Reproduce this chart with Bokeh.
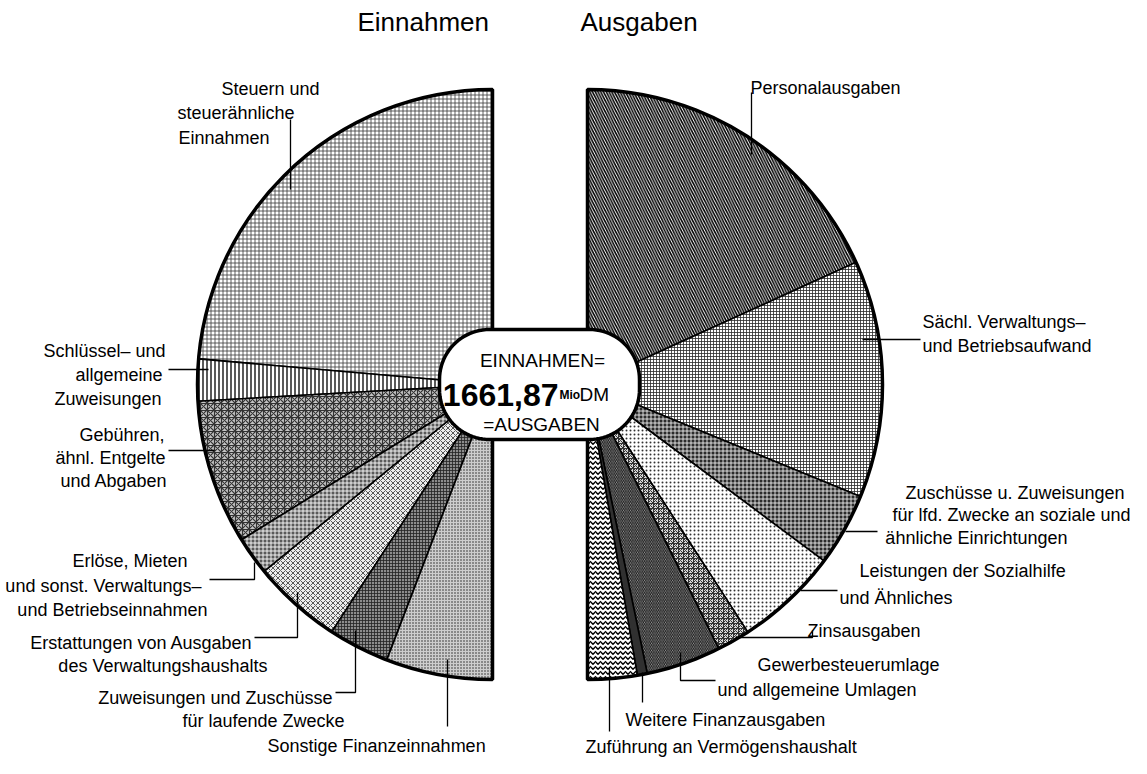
import numpy as np
from bokeh.plotting import figure
from bokeh.models import Range1d, ColumnDataSource
from bokeh.embed import file_html
from bokeh.resources import INLINE
from bokeh.core.properties import value

# ---------------- data (Mio DM) ----------------
einnahmen_names = [
    "Steuern und steuerähnliche Einnahmen",
    "Schlüssel- und allgemeine Zuweisungen",
    "Gebühren, ähnl. Entgelte und Abgaben",
    "Erlöse, Mieten und sonst. Verwaltungs- und Betriebseinnahmen",
    "Erstattungen von Ausgaben des Verwaltungshaushalts",
    "Zuweisungen und Zuschüsse für laufende Zwecke",
    "Sonstige Finanzeinnahmen",
]
einnahmen_values = [785.0, 76.0, 263.0, 70.0, 163.0, 111.0, 193.87]

ausgaben_names = [
    "Personalausgaben",
    "Sächl. Verwaltungs- und Betriebsaufwand",
    "Zuschüsse u. Zuweisungen für lfd. Zwecke an soziale und ähnliche Einrichtungen",
    "Leistungen der Sozialhilfe und Ähnliches",
    "Zinsausgaben",
    "Gewerbesteuerumlage und allgemeine Umlagen",
    "Weitere Finanzausgaben",
    "Zuführung an Vermögenshaushalt",
]
ausgaben_values = [605.0, 432.0, 133.0, 188.0, 60.0, 136.0, 18.0, 89.87]

total_text = "1661,87"
titles = ["Einnahmen", "Ausgaben"]

# ---------------- styles ----------------
FONT = value("Liberation Sans")
W, H = 1131, 758


def X(px):
    return px - 8


def Y(py):
    return 766 - py


ein_style = dict(
    fc=["white", "white", "#c4c4c4", "#5a5a5a", "#ececec", "#8c8c8c", "#cdcdcd"],
    hp=["+", "|", "*", "+", "x", "+", "."],
    hc=["#3a3a3a", "black", "#333333", "white", "#444444", "#222222", "#222222"],
    hs=[4.0, 4.0, 7.0, 4.0, 5.0, 3.0, 3.0],
    hw=[0.8, 1.3, 1.2, 0.9, 0.9, 0.8, 0.9],
)
aus_style = dict(
    fc=["white", "white", "#2b2b2b", "white", "#d8d8d8", "#a0a0a0", "#303030", "white"],
    hp=["\\", "+", "+", ".", "*", "\\", " ", "v"],
    hc=["black", "#2a2a2a", "white", "#333333", "#333333", "#111111", "white", "black"],
    hs=[5.5, 3.0, 4.0, 4.0, 5.0, 3.5, 3.0, 5.0],
    hw=[1.6, 0.8, 0.8, 1.0, 1.0, 1.0, 0.8, 1.4],
)

R = 295
CL = (X(500), Y(392))
CR = (X(595), Y(392))


def half_angles(values, side):
    v = np.array(values, dtype=float)
    frac = np.cumsum(np.concatenate([[0.0], v])) / v.sum()
    if side == "left":
        start = np.pi / 2 + frac[:-1] * np.pi
        end = np.pi / 2 + frac[1:] * np.pi
    else:
        start = np.pi / 2 - frac[1:] * np.pi
        end = np.pi / 2 - frac[:-1] * np.pi
    return start, end


p = figure(width=W, height=H, x_range=Range1d(0, W), y_range=Range1d(0, H),
           output_backend="svg", toolbar_location=None,
           x_axis_type=None, y_axis_type=None, min_border=0)
p.outline_line_color = None
p.grid.visible = False
p.background_fill_color = "white"

for vals, names, style, c, side in [
    (einnahmen_values, einnahmen_names, ein_style, CL, "left"),
    (ausgaben_values, ausgaben_names, aus_style, CR, "right"),
]:
    s, e = half_angles(vals, side)
    src = ColumnDataSource(dict(start=s, end=e, name=names, **style))
    p.wedge(x=c[0], y=c[1], radius=R, start_angle="start", end_angle="end",
            fill_color="fc", hatch_pattern="hp", hatch_color="hc",
            hatch_scale="hs", hatch_weight="hw",
            line_color="black", line_width=1.6, source=src)

# thick outer contour of each half
p.wedge(x=CL[0], y=CL[1], radius=R, start_angle=np.pi / 2, end_angle=3 * np.pi / 2,
        fill_color=None, line_color="black", line_width=3.5)
p.wedge(x=CR[0], y=CR[1], radius=R, start_angle=-np.pi / 2, end_angle=np.pi / 2,
        fill_color=None, line_color="black", line_width=3.5)


# centre box (rounded)
def rounded_rect(cx, cy, w, h, r, n=24):
    xs, ys = [], []
    corners = [(cx + w / 2 - r, cy + h / 2 - r, 0), (cx - w / 2 + r, cy + h / 2 - r, 90),
               (cx - w / 2 + r, cy - h / 2 + r, 180), (cx + w / 2 - r, cy - h / 2 + r, 270)]
    for ccx, ccy, a0 in corners:
        t = np.radians(np.linspace(a0, a0 + 90, n))
        xs.extend(ccx + r * np.cos(t))
        ys.extend(ccy + r * np.sin(t))
    return xs, ys


bx, by = rounded_rect(X(547), Y(392), 200, 110, 50)
p.patch(bx, by, fill_color="white", line_color="black", line_width=3.5)

# box texts
p.text(x=[X(550)], y=[Y(368)], text=["EINNAHMEN="], text_font=FONT, text_font_size="19px",
       text_align="center", text_baseline="alphabetic", text_color="black")
p.text(x=[X(549)], y=[Y(432)], text=["=AUSGABEN"], text_font=FONT, text_font_size="19px",
       text_align="center", text_baseline="alphabetic", text_color="black")
p.text(x=[X(566)], y=[Y(402)], text=[total_text], text_font=FONT, text_font_size="32px",
       text_font_style="bold", text_align="right", text_baseline="alphabetic", text_color="black")
p.text(x=[X(567)], y=[Y(402)], text=["Mio"], text_font=FONT, text_font_size="12px",
       text_font_style="bold", text_align="left", text_baseline="alphabetic", text_color="black")
p.text(x=[X(587)], y=[Y(402)], text=["DM"], text_font=FONT, text_font_size="19px",
       text_align="left", text_baseline="alphabetic", text_color="black")

# titles
p.text(x=[X(365), X(588)], y=[Y(29), Y(29)], text=titles, text_font=FONT, text_font_size="26px",
       text_align="left", text_baseline="alphabetic", text_color="black")

# label lines (text, x, baseline y)
left_lines = [
    ("Steuern und", 327, 96), ("steuerähnliche", 302, 120), ("Einnahmen", 277, 145),
    ("Schlüssel– und", 173, 358), ("allgemeine", 170, 382), ("Zuweisungen", 169, 406),
    ("Gebühren,", 172, 442), ("ähnl. Entgelte", 173, 465), ("und Abgaben", 175, 488),
    ("Erlöse, Mieten", 195, 568), ("und sonst. Verwaltungs–", 209, 593), ("und Betriebseinnahmen", 215, 617),
    ("Erstattungen von Ausgaben", 260, 650), ("des Verwaltungshaushalts", 275, 673),
    ("Zuweisungen und Zuschüsse", 340, 705), ("für laufende Zwecke", 352, 728),
    ("Zuschüsse u. Zuweisungen", 1132, 500), ("für lfd. Zwecke an soziale und", 1138, 522),
    ("ähnliche Einrichtungen", 1075, 545),
]
right_lines = [
    ("Sonstige Finanzeinnahmen", 275, 753),
    ("Personalausgaben", 758, 95),
    ("Sächl. Verwaltungs–", 930, 329), ("und Betriebsaufwand", 930, 353),
    ("Leistungen der Sozialhilfe", 867, 578), ("und Ähnliches", 847, 605),
    ("Zinsausgaben", 815, 638),
    ("Gewerbesteuerumlage", 765, 672), ("und allgemeine Umlagen", 725, 697),
    ("Weitere Finanzausgaben", 633, 727),
    ("Zuführung an Vermögenshaushalt", 593, 754),
]
for lines, align in [(left_lines, "right"), (right_lines, "left")]:
    p.text(x=[X(t[1]) for t in lines], y=[Y(t[2]) for t in lines], text=[t[0] for t in lines],
           text_font=FONT, text_font_size="18px", text_align=align,
           text_baseline="alphabetic", text_color="black")

# leader lines
leaders = [
    [(298, 127), (298, 197)],
    [(176, 377), (216, 377)],
    [(176, 458), (222, 458)],
    [(217, 587), (262, 587), (262, 570)],
    [(262, 645), (305, 645), (305, 600)],
    [(343, 700), (363, 700), (363, 638)],
    [(455, 667), (455, 734)],
    [(759, 100), (759, 162)],
    [(870, 347), (928, 347)],
    [(853, 539), (885, 539)],
    [(808, 598), (845, 598)],
    [(743, 645), (820, 645), (820, 638)],
    [(688, 660), (688, 688), (723, 688)],
    [(650, 680), (650, 710)],
    [(617, 675), (617, 739)],
]
p.multi_line(xs=[[X(a) for a, b in L] for L in leaders], ys=[[Y(b) for a, b in L] for L in leaders],
             line_color="black", line_width=1.3)

open("out.html", "w").write(file_html(p, INLINE))
